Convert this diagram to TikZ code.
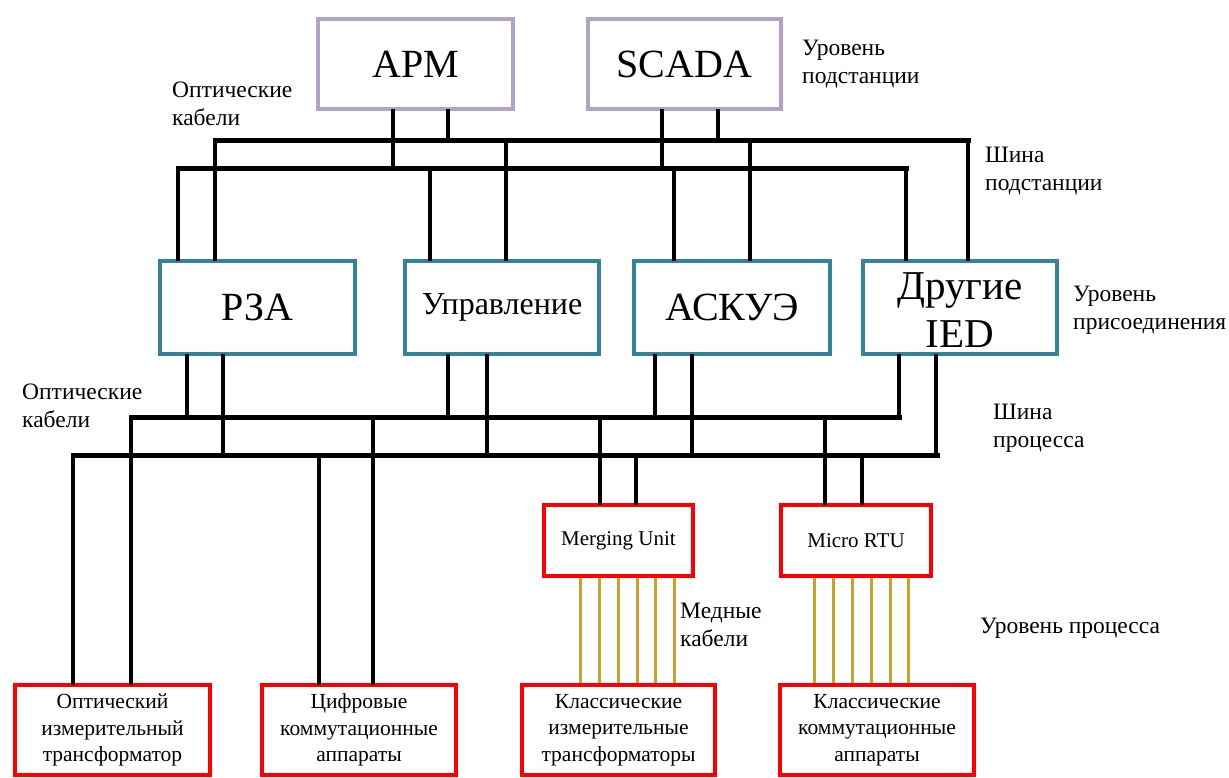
\documentclass[tikz,border=0pt]{standalone}
\usepackage{fontspec}
\setmainfont{Liberation Serif}
\definecolor{purp}{HTML}{B3A2C7}
\definecolor{tealb}{HTML}{31849B}
\definecolor{redb}{HTML}{FF0000}
\definecolor{copper}{HTML}{C9A227}
\newcommand\mydrop[3]{\coordinate (tmpc) at (#2,0); \draw[wire] (#1 -| tmpc) -- (tmpc |- #3);}
\begin{document}
\begin{tikzpicture}[x=1pt,y=-1pt,
  box/.style={draw, line width=4pt, inner sep=0pt, align=center, fill=white},
  stbox/.style={box, draw=purp, minimum height=90pt, font=\fontsize{40}{44}\selectfont},
  bybox/.style={box, draw=tealb, minimum height=93pt, font=\fontsize{40}{49}\selectfont},
  prbox/.style={box, draw=redb, minimum height=71pt, font=\fontsize{21}{24}\selectfont},
  eqbox/.style={box, draw=redb, minimum height=90pt, font=\fontsize{21.5}{26.5}\selectfont},
  wire/.style={line width=4pt, line cap=rect, black},
  bus/.style={line width=5pt, line cap=rect, black},
  cu/.style={line width=3pt, copper},
  lbl/.style={anchor=west, align=left, inner sep=0pt, font=\fontsize{23.5}{28}\selectfont}
]
\useasboundingbox (0,0) rectangle (1229,778);
\fill[white] (0,0) rectangle (1229,778);

% buses
\coordinate (sbUa) at (215,141); \coordinate (sbUb) at (968,141);
\coordinate (sbLa) at (178,169); \coordinate (sbLb) at (906,169);
\coordinate (pbUa) at (131,417); \coordinate (pbUb) at (899,417);
\coordinate (pbLa) at (73,455);  \coordinate (pbLb) at (937,455);
\draw[bus] (sbUa) -- (sbUb);
\draw[bus] (sbLa) -- (sbLb);
\draw[bus] (pbUa) -- (pbUb);
\draw[bus] (pbLa) -- (pbLb);

% nodes
\node[stbox, minimum width=195pt] (arm) at (415.5,64) {АРМ};
\node[stbox, minimum width=193pt] (scada) at (684.5,64) {SCADA};
\node[bybox, minimum width=195pt] (rza) at (257.5,307.5) {РЗА};
\node[bybox, minimum width=194pt, font=\fontsize{32}{36}\selectfont] (upr) at (502,307.5) {Управление};
\node[bybox, minimum width=196pt] (askue) at (732,307.5) {АСКУЭ};
\node[bybox, minimum width=194pt, font=\fontsize{41}{48}\selectfont] (dr) at (960,307.5) {\rule{0pt}{33pt}Другие\\IED};
\node[prbox, minimum width=149pt] (mu) at (618.5,540.5) {Merging Unit};
\node[prbox, minimum width=150pt] (rtu) at (856,540.5) {Micro RTU};
\node[eqbox, minimum width=195pt] (b1) at (112.5,730) {Оптический\\измерительный\\трансформатор};
\node[eqbox, minimum width=194pt] (b2) at (359,730) {Цифровые\\коммутационные\\аппараты};
\node[eqbox, minimum width=193pt] (b3) at (618.5,730) {Классические\\измерительные\\трансформаторы};
\node[eqbox, minimum width=194pt] (b4) at (877,730) {Классические\\коммутационные\\аппараты};

% station bus drops
\mydrop{arm.south}{393}{sbLa}
\mydrop{arm.south}{448}{sbUa}
\mydrop{scada.south}{662}{sbLa}
\mydrop{scada.south}{718}{sbUa}
\mydrop{rza.north}{178}{sbLa}
\mydrop{rza.north}{215}{sbUa}
\mydrop{upr.north}{430}{sbLa}
\mydrop{upr.north}{506}{sbUa}
\mydrop{askue.north}{674}{sbLa}
\mydrop{askue.north}{750}{sbUa}
\mydrop{dr.north}{906}{sbLa}
\mydrop{dr.north}{968}{sbUa}

% process bus drops
\mydrop{rza.south}{187}{pbUa}
\mydrop{rza.south}{223}{pbLa}
\mydrop{upr.south}{448}{pbUa}
\mydrop{upr.south}{487}{pbLa}
\mydrop{askue.south}{655}{pbUa}
\mydrop{askue.south}{692}{pbLa}
\mydrop{dr.south}{899}{pbUa}
\mydrop{dr.south}{936}{pbLa}
\mydrop{b1.north}{73}{pbLa}
\mydrop{b1.north}{131}{pbUa}
\mydrop{b2.north}{319}{pbLa}
\mydrop{b2.north}{373}{pbUa}
\mydrop{mu.north}{600}{pbUa}
\mydrop{mu.north}{636}{pbLa}
\mydrop{rtu.north}{825}{pbUa}
\mydrop{rtu.north}{862}{pbLa}

% copper cables
\foreach \x in {580,599,618,637,655,674}{
  \coordinate (cc) at (\x,0);
  \draw[cu] (mu.south -| cc) -- (b3.north -| cc);
}
\foreach \x in {814,833,852,871,890,908}{
  \coordinate (cc) at (\x,0);
  \draw[cu] (rtu.south -| cc) -- (b4.north -| cc);
}

% labels
\node[lbl] (l1) at (172,104) {Оптические\\кабели};
\node[lbl] (l2) at (802,64) {Уровень\\подстанции};
\node[lbl] (l3) at (985,171) {Шина\\подстанции};
\node[lbl] (l4) at (1073,310) {Уровень\\присоединения};
\node[lbl] (l5) at (22,406) {Оптические\\кабели};
\node[lbl] (l6) at (993,428) {Шина\\процесса};
\node[lbl] (l7) at (680,625) {Медные\\кабели};
\node[lbl] (l8) at (980,628) {Уровень процесса};
\end{tikzpicture}
\end{document}
